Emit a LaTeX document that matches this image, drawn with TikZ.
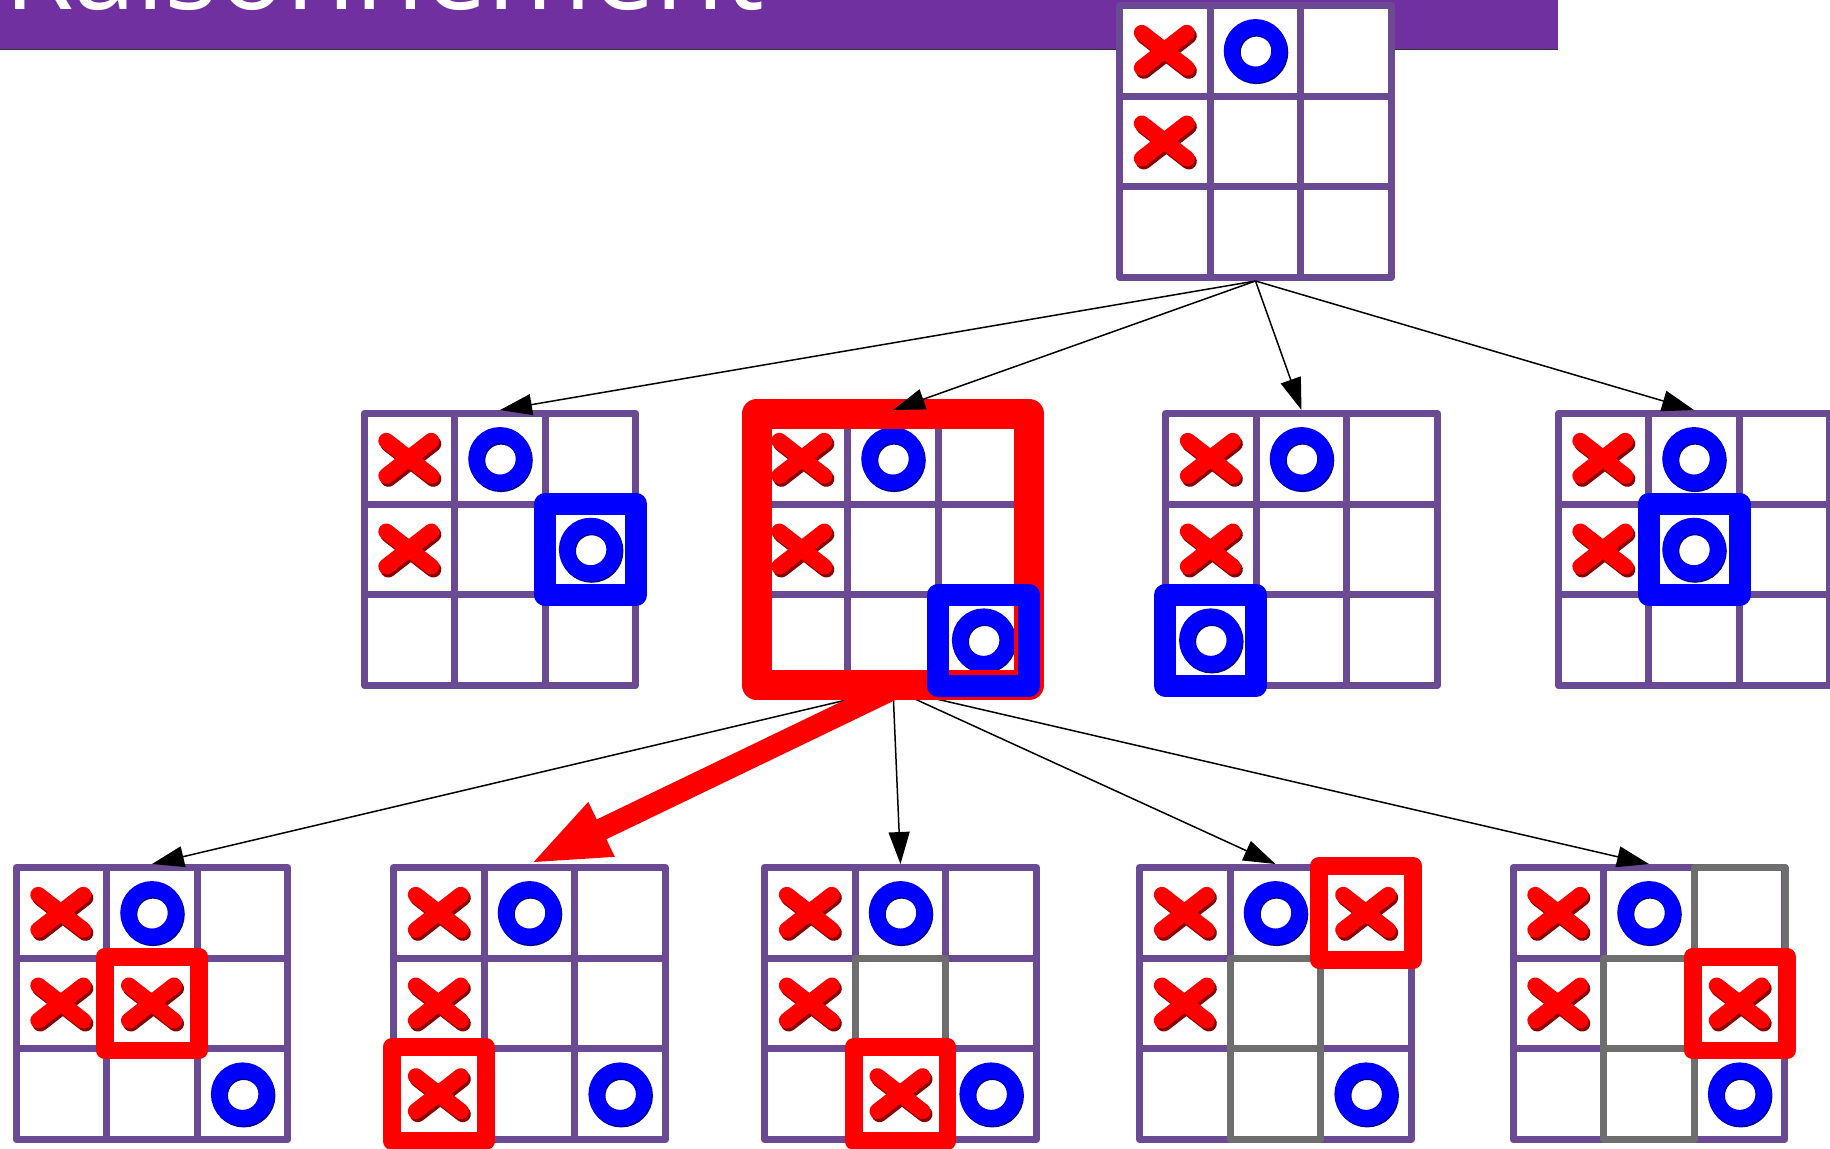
\documentclass[tikz,border=0pt]{standalone}
\usepackage{fontspec}
\setsansfont{Open Sans}
\usepackage{tikz}
\usetikzlibrary{arrows.meta, calc}
\definecolor{titlepurple}{HTML}{7030A0}
\definecolor{gridpurple}{HTML}{6B4A94}
\definecolor{cellgray}{HTML}{6E6E6E}
\definecolor{xred}{HTML}{FF0000}
\definecolor{xdark}{HTML}{8B0000}
\definecolor{oblue}{HTML}{0000FF}
\definecolor{odark}{HTML}{00008B}

% inner lines of a board + named cells (board-rc)
\newcommand{\gridof}[1]{%
  \foreach \k in {-45.33,45.33} {
    \draw[gridline] ($(#1.center)+(\k,-136)$) -- ($(#1.center)+(\k,136)$);
    \draw[gridline] ($(#1.center)+(-136,\k)$) -- ($(#1.center)+(136,\k)$);
  }
  \foreach \r in {1,2,3} \foreach \c in {1,2,3}
    \coordinate (#1-\r\c) at ($(#1.center)+({(\c-2)*90.67},{(\r-2)*90.67})$);
}

\begin{document}
\begin{tikzpicture}[x=0.02cm, y=-0.02cm,
  board/.style={rectangle, draw=gridpurple, fill=white, line width=0.14cm, line join=round, minimum size=5.44cm, inner sep=0pt},
  gridline/.style={gridpurple, line width=0.14cm},
  grayedge/.style={rectangle, draw=cellgray, line width=0.14cm, line join=round, minimum size=1.813cm, inner sep=0pt},
  bluebox/.style={rectangle, draw=oblue, line width=0.44cm, line join=round, minimum size=1.82cm, inner sep=0pt},
  redbox/.style={rectangle, draw=xred, line width=0.36cm, line join=round, minimum size=1.88cm, inner sep=0pt},
  redframe/.style={rectangle, draw=xred, line width=0.6cm, line join=round, minimum size=5.44cm, inner sep=0pt},
  arrow/.style={-{Triangle[length=0.64cm, width=0.42cm]}, line width=0.03cm},
  bigarrow/.style={-{Triangle[length=1.6cm, width=1.08cm]}, xred, line width=0.44cm},
  xmark/.pic={
    \draw[xdark, line width=0.32cm, line cap=round] (-21,-15) -- (24,20) (-21,20) -- (24,-15);
    \draw[xred, line width=0.32cm, line cap=round] (-23,-18) -- (22,17) (-23,17) -- (22,-18);
  },
  omark/.pic={
    \draw[odark, line width=0.32cm] (1,1.5) circle (0.475cm);
    \draw[oblue, line width=0.32cm] (0,0) circle (0.475cm);
  }]

\useasboundingbox (0,0) rectangle (1830,1149);
\clip (0,0) rectangle (1830,1149);

\fill[titlepurple] (0,0) rectangle (1558,49);
\draw[black!80, line width=0.03cm] (0,49.5) -- (1558,49.5);
\node[anchor=base west, inner sep=0pt, text=white, font=\sffamily\fontsize{64pt}{70pt}\selectfont] (title) at (4,10) {Raisonnement};

\node[board] (start) at (1255.5,141.5) {};

\node[board] (o1) at (500,549.5) {};
\node[board] (o2) at (893,549.5) {};
\node[board] (o3) at (1301.5,549.5) {};
\node[board] (o4) at (1694,549.5) {};

\node[board] (x1) at (152,1003.5) {};
\node[board] (x2) at (529.5,1003.5) {};
\node[board] (x3) at (900.5,1003.5) {};
\node[board] (x4) at (1275.5,1003.5) {};
\node[board] (x5) at (1649,1003.5) {};

\foreach \b in {start,o1,o2,o3,o4,x1,x2,x3,x4,x5} {\gridof{\b}}

\foreach \g in {x3-22,x4-22,x4-32,x5-13,x5-22,x5-32}
  \node[grayedge] at (\g) {};

\foreach \b in {start,o1,o2,o3,o4,x1,x2,x3,x4,x5} {
  \pic at (\b-11) {xmark};
  \pic at (\b-12) {omark};
  \pic at (\b-21) {xmark};
}
\foreach \g in {o1-23,o2-33,o3-31,o4-22,x1-33,x2-33,x3-33,x4-33,x5-33}
  \pic at (\g) {omark};
\foreach \g in {x1-22,x2-31,x3-32,x4-13,x5-23}
  \pic at (\g) {xmark};

\draw[arrow] (o2.south) -- (x1.north);
\draw[arrow] (o2.south) -- (x3.north);
\draw[arrow] (o2.south) -- (x4.north);
\draw[arrow] (o2.south) -- (x5.north);
\draw[bigarrow] (o2.south) -- (x2.north);

\node[redframe] at (o2.center) {};
\foreach \g in {o1-23,o2-33,o3-31,o4-22}
  \node[bluebox] at (\g) {};
\foreach \g in {x1-22,x2-31,x3-32,x4-13,x5-23}
  \node[redbox] at (\g) {};

\draw[arrow] (start.south) -- (o1.north);
\draw[arrow] (start.south) -- (o2.north);
\draw[arrow] (start.south) -- (o3.north);
\draw[arrow] (start.south) -- (o4.north);
\end{tikzpicture}
\end{document}
